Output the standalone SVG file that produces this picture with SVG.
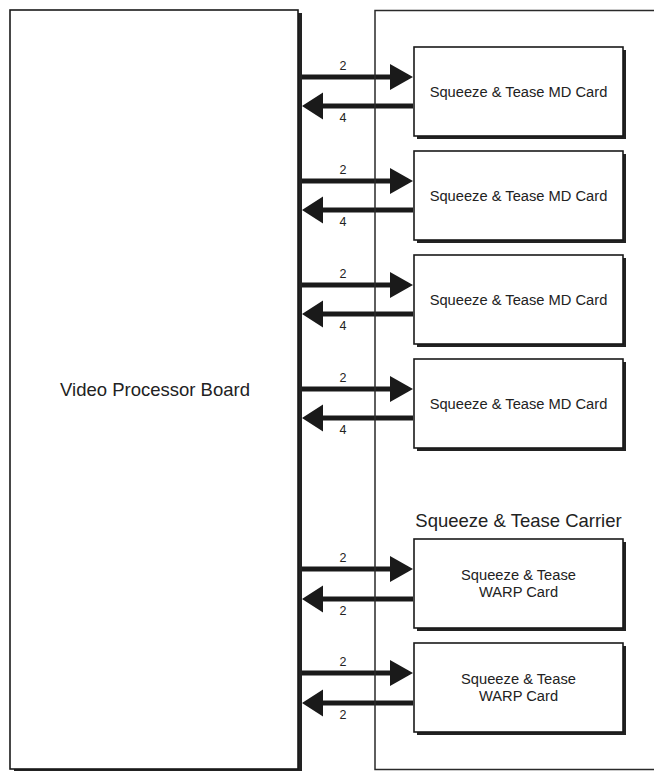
<svg xmlns="http://www.w3.org/2000/svg" width="654" height="771" viewBox="0 0 654 771">
<style>
.bg{fill:#fff}
.shadow{fill:#222}
.box{fill:#fff;stroke:#1a1a1a;stroke-width:1.6}
.carrier{fill:none;stroke:#2a2a2a;stroke-width:1.5}
.arrow{fill:#1a1a1a}
text{font-family:"Liberation Sans",Arial,sans-serif;fill:#222}
.big{font-size:18.5px}
.card{font-size:14.7px;text-anchor:middle}
.num{font-size:12.5px;text-anchor:middle}
</style>
<rect class="bg" x="0" y="0" width="654" height="771"/>
<g id="vpb">
<rect class="shadow" x="14" y="13" width="288" height="759"/>
<rect class="box" x="10" y="10" width="288" height="759"/>
<text class="big" x="155" y="396" text-anchor="middle">Video Processor Board</text>
</g>
<g id="connectors">
<path class="arrow" d="M302,74.5H390V64L413,77L390,90V79.5H302Z"/>
<path class="arrow" d="M413,103.5H323V92.5L302,106L323,119.5V108.5H413Z"/>
<text class="num" x="343" y="70">2</text>
<text class="num" x="343" y="121.5">4</text>
<path class="arrow" d="M302,178.5H390V168L413,181L390,194V183.5H302Z"/>
<path class="arrow" d="M413,207.5H323V196.5L302,210L323,223.5V212.5H413Z"/>
<text class="num" x="343" y="174">2</text>
<text class="num" x="343" y="225.5">4</text>
<path class="arrow" d="M302,282.5H390V272L413,285L390,298V287.5H302Z"/>
<path class="arrow" d="M413,311.5H323V300.5L302,314L323,327.5V316.5H413Z"/>
<text class="num" x="343" y="278">2</text>
<text class="num" x="343" y="329.5">4</text>
<path class="arrow" d="M302,386.5H390V376L413,389L390,402V391.5H302Z"/>
<path class="arrow" d="M413,415.5H323V404.5L302,418L323,431.5V420.5H413Z"/>
<text class="num" x="343" y="382">2</text>
<text class="num" x="343" y="433.5">4</text>
<path class="arrow" d="M302,566.5H390V556L413,569L390,582V571.5H302Z"/>
<path class="arrow" d="M413,596.5H323V585.5L302,599L323,612.5V601.5H413Z"/>
<text class="num" x="343" y="562">2</text>
<text class="num" x="343" y="614.5">2</text>
<path class="arrow" d="M302,670.5H390V660L413,673L390,686V675.5H302Z"/>
<path class="arrow" d="M413,700.5H323V689.5L302,703L323,716.5V705.5H413Z"/>
<text class="num" x="343" y="666">2</text>
<text class="num" x="343" y="718.5">2</text>
</g>
<g id="carrier">
<rect class="carrier" x="375" y="10.5" width="300" height="759"/>
<text class="big" x="518.5" y="527" text-anchor="middle">Squeeze &amp; Tease Carrier</text>
</g>
<g id="md1">
<rect class="shadow" x="417" y="50" width="209" height="89"/>
<rect class="box" x="414" y="47" width="209" height="89"/>
<text class="card" x="518.5" y="96.5">Squeeze &amp; Tease MD Card</text>
</g>
<g id="md2">
<rect class="shadow" x="417" y="154" width="209" height="89"/>
<rect class="box" x="414" y="151" width="209" height="89"/>
<text class="card" x="518.5" y="200.5">Squeeze &amp; Tease MD Card</text>
</g>
<g id="md3">
<rect class="shadow" x="417" y="258" width="209" height="89"/>
<rect class="box" x="414" y="255" width="209" height="89"/>
<text class="card" x="518.5" y="304.5">Squeeze &amp; Tease MD Card</text>
</g>
<g id="md4">
<rect class="shadow" x="417" y="362" width="209" height="89"/>
<rect class="box" x="414" y="359" width="209" height="89"/>
<text class="card" x="518.5" y="408.5">Squeeze &amp; Tease MD Card</text>
</g>
<g id="warp1">
<rect class="shadow" x="417" y="542" width="209" height="89"/>
<rect class="box" x="414" y="539" width="209" height="89"/>
<text class="card" x="518.5" y="580">Squeeze &amp; Tease</text>
<text class="card" x="518.5" y="597">WARP Card</text>
</g>
<g id="warp2">
<rect class="shadow" x="417" y="646" width="209" height="89"/>
<rect class="box" x="414" y="643" width="209" height="89"/>
<text class="card" x="518.5" y="684">Squeeze &amp; Tease</text>
<text class="card" x="518.5" y="701">WARP Card</text>
</g>
</svg>
